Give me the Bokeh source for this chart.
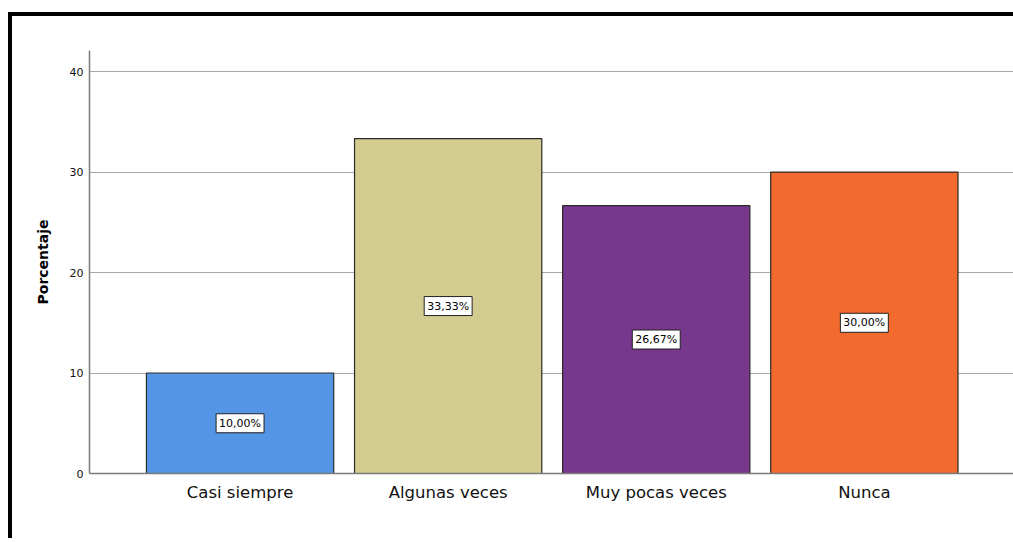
from bokeh.plotting import figure
from bokeh.models import ColumnDataSource, Label, FixedTicker, Range1d
from bokeh.embed import file_html
from bokeh.resources import INLINE

categories = ["Casi siempre", "Algunas veces", "Muy pocas veces", "Nunca"]
percentages = [10.00, 33.33, 26.67, 30.00]
colors = ["#5595E5", "#D2CC90", "#77378D", "#F26A2D"]
y_ticks = [0, 10, 20, 30, 40]

positions = [i + 1 for i in range(len(categories))]
labels = [f"{v:.2f}%".replace(".", ",") for v in percentages]
mids = [v / 2 for v in percentages]

src = ColumnDataSource(dict(x=positions, top=percentages, color=colors))

p = figure(width=1005, height=526, output_backend="svg", toolbar_location=None,
           x_range=Range1d(0.2764, 4.736), y_range=Range1d(0, 42.1),
           min_border_left=77, min_border_right=0, min_border_top=34,
           min_border_bottom=69)
p.styles = {"margin-left": "8px", "margin-top": "12px",
            "border-top": "4px solid black", "border-left": "4px solid black"}
p.outline_line_color = None
p.background_fill_color = "white"
p.border_fill_color = "white"

p.vbar(x="x", top="top", width=0.9, bottom=0, source=src, fill_color="color",
       line_color="#2a2a2a", line_width=1.2)

for xx, yy, t in zip(positions, mids, labels):
    p.add_layout(Label(x=xx, y=yy, text=t, text_align="center",
                       text_baseline="middle", text_font="DejaVu Sans",
                       text_font_size="11px", text_color="black",
                       background_fill_color="white", border_line_color="#222222",
                       border_line_width=1, padding=3))

p.xgrid.grid_line_color = None
p.ygrid.ticker = FixedTicker(ticks=y_ticks)
p.ygrid.grid_line_color = "#a8a8a8"
p.ygrid.grid_line_width = 1

p.yaxis.ticker = FixedTicker(ticks=y_ticks)
p.yaxis.axis_label = "Porcentaje"
p.yaxis.axis_label_text_font = "DejaVu Sans"
p.yaxis.axis_label_text_font_style = "bold"
p.yaxis.axis_label_text_font_size = "14px"
p.yaxis.axis_label_text_color = "black"
p.yaxis.axis_label_standoff = 16
p.yaxis.major_label_text_font = "DejaVu Sans"
p.yaxis.major_label_text_font_size = "11px"
p.yaxis.major_label_standoff = 6

p.xaxis.ticker = FixedTicker(ticks=positions)
p.xaxis.major_label_overrides = {pos: c for pos, c in zip(positions, categories)}
p.xaxis.major_label_text_font = "DejaVu Sans"
p.xaxis.major_label_text_font_size = "16.5px"
p.xaxis.major_label_standoff = 9

for ax in (p.xaxis, p.yaxis):
    ax.axis_line_color = "#7a7a7a"
    ax.axis_line_width = 1.5
    ax.major_tick_line_color = None
    ax.minor_tick_line_color = None
    ax.major_tick_out = 0
    ax.major_tick_in = 0
    ax.major_label_text_color = "#111111"

open("out.html", "w").write(file_html(p, INLINE))
